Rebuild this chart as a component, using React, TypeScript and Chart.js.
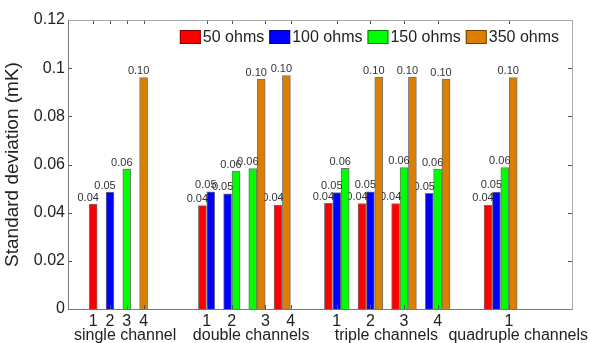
import React, { useEffect, useRef } from 'react';
import { Chart, registerables } from 'chart.js';
Chart.register(...registerables);

const seriesNames = ['50 ohms', '100 ohms', '150 ohms', '350 ohms'];
const seriesColors = ['#ff0000', '#0000ff', '#00ff00', '#dc7e00'];

// bar positions (x units) and values per series
const pos50 = [3, 16, 25, 31, 35, 39, 50];
const val50 = [0.0436, 0.0429, 0.0432, 0.0439, 0.0438, 0.0438, 0.0432];
const pos100 = [5, 17, 19, 32, 36, 43, 51];
const val100 = [0.0485, 0.0487, 0.0478, 0.0483, 0.0487, 0.048, 0.0486];
const pos150 = [7, 20, 22, 33, 40, 44, 52];
const val150 = [0.0581, 0.0573, 0.0583, 0.0584, 0.0587, 0.0581, 0.0587];
const pos350 = [9, 23, 26, 37, 41, 45, 53];
const val350 = [0.0961, 0.0955, 0.0969, 0.0962, 0.0963, 0.0955, 0.0961];

const tickPositions = [3, 5, 7, 9, 16.5, 19.5, 23.5, 26.5, 32, 36, 40, 44, 52.5];
const tickLabels = ['1', '2', '3', '4', '1', '2', '3', '4', '1', '2', '3', '4', '1'];
const groupNames = ['single channel', 'double channels', 'triple channels', 'quadruple channels'];
const groupCenters = [6.8, 21.8, 37.9, 53.6];
const yTicks = [0, 0.02, 0.04, 0.06, 0.08, 0.1, 0.12];

const FONT = '"Liberation Sans", Arial, sans-serif';

const positions = [pos50, pos100, pos150, pos350];
const values = [val50, val100, val150, val350];

const decorPlugin = {
  id: 'decor',
  beforeDatasetsDraw(chart: any) {
    const ctx = chart.ctx;
    ctx.save();
    ctx.font = `11px ${FONT}`;
    ctx.fillStyle = '#333';
    ctx.textAlign = 'center';
    ctx.textBaseline = 'bottom';
    chart.data.datasets.forEach((ds: any, di: number) => {
      const meta = chart.getDatasetMeta(di);
      meta.data.forEach((el: any, i: number) => {
        const v = ds.data[i].y;
        ctx.fillText(v.toFixed(2), el.x - 5, el.y - 1);
      });
    });
    ctx.restore();
  },
  afterDatasetsDraw(chart: any) {
    const ctx = chart.ctx;
    const { left, right, top, bottom } = chart.chartArea;
    const xs = chart.scales.x;
    const ys = chart.scales.y;
    ctx.save();
    ctx.lineWidth = 1;
    // ticks
    ctx.strokeStyle = '#555';
    tickPositions.forEach((p) => {
      const x = Math.round(xs.getPixelForValue(p)) + 0.5;
      ctx.beginPath();
      ctx.moveTo(x, bottom);
      ctx.lineTo(x, bottom - 4);
      ctx.moveTo(x, top);
      ctx.lineTo(x, top + 4);
      ctx.stroke();
    });
    yTicks.forEach((v) => {
      const y = Math.round(ys.getPixelForValue(v)) + 0.5;
      ctx.beginPath();
      ctx.moveTo(left, y);
      ctx.lineTo(left + 4, y);
      ctx.moveTo(right, y);
      ctx.lineTo(right - 4, y);
      ctx.stroke();
    });
    // box
    ctx.strokeStyle = '#777';
    ctx.beginPath();
    ctx.moveTo(left + 0.5, top + 0.5);
    ctx.lineTo(left + 0.5, bottom + 0.5);
    ctx.lineTo(right + 0.5, bottom + 0.5);
    ctx.stroke();
    ctx.strokeStyle = '#aaa';
    ctx.beginPath();
    ctx.moveTo(left + 0.5, top + 0.5);
    ctx.lineTo(right + 0.5, top + 0.5);
    ctx.lineTo(right + 0.5, bottom + 0.5);
    ctx.stroke();

    // group labels
    ctx.font = `16px ${FONT}`;
    ctx.fillStyle = '#222';
    ctx.textAlign = 'center';
    ctx.textBaseline = 'middle';
    groupNames.forEach((g, i) => {
      ctx.fillText(g, xs.getPixelForValue(groupCenters[i]), 336);
    });

    // legend
    ctx.font = `16px ${FONT}`;
    const sw = 21, sh = 14, gapText = 2, gapItem = 5;
    const widths = chart.data.datasets.map((d: any) => ctx.measureText(d.label).width);
    const total = widths.reduce((a: number, w: number) => a + sw + gapText + w, 0) + gapItem * (widths.length - 1);
    let x = right - 13 - total;
    const ly = top + 17;
    ctx.textAlign = 'left';
    chart.data.datasets.forEach((d: any, i: number) => {
      ctx.fillStyle = d.backgroundColor;
      ctx.fillRect(x, ly - sh / 2, sw, sh);
      ctx.strokeStyle = 'rgba(0,0,0,0.5)';
      ctx.strokeRect(x + 0.5, ly - sh / 2 + 0.5, sw - 1, sh - 1);
      ctx.fillStyle = '#222';
      ctx.fillText(d.label, x + sw + gapText, ly + 1);
      x += sw + gapText + widths[i] + gapItem;
    });
    ctx.restore();
  },
};

export default function App() {
  const ref = useRef<HTMLCanvasElement>(null);
  useEffect(() => {
    if (!ref.current) return;
    const chart = new Chart(ref.current, {
      type: 'bar',
      data: {
        datasets: seriesNames.map((name, si) => ({
          label: name,
          data: positions[si].map((p, i) => ({ x: p, y: values[si][i] })),
          backgroundColor: seriesColors[si],
          borderColor: 'rgba(0,0,0,0.55)',
          borderWidth: 1,
          barThickness: 8,
          grouped: false,
        })),
      },
      options: {
        responsive: false,
        animation: false,
        layout: { padding: { top: 20, right: 18, left: 0, bottom: 0 } },
        plugins: { legend: { display: false }, tooltip: { enabled: false } },
        scales: {
          x: {
            type: 'linear',
            min: 0,
            max: 60,
            offset: false,
            grid: { display: false, drawTicks: false },
            border: { display: false },
            afterBuildTicks: (s: any) => {
              s.ticks = tickPositions.map((v) => ({ value: v }));
            },
            afterFit: (s: any) => {
              s.height = 34;
            },
            ticks: {
              autoSkip: false,
              maxRotation: 0,
              padding: 3,
              color: '#222',
              font: { family: FONT, size: 16 },
              callback: (_v: any, i: number) => tickLabels[i],
            },
          },
          y: {
            min: 0,
            max: 0.12,
            grid: { display: false, drawTicks: false },
            border: { display: false },
            afterBuildTicks: (s: any) => {
              s.ticks = yTicks.map((v) => ({ value: v }));
            },
            afterFit: (s: any) => {
              s.width = 68;
            },
            ticks: {
              padding: 3,
              color: '#222',
              font: { family: FONT, size: 16 },
              callback: (v: any) => String(parseFloat(Number(v).toFixed(2))),
            },
            title: {
              display: true,
              text: 'Standard deviation (mK)',
              color: '#222',
              font: { family: FONT, size: 19 },
              padding: { top: 1, bottom: 0 },
            },
          },
        },
      },
      plugins: [decorPlugin],
    });
    return () => chart.destroy();
  }, []);
  return (
    <div style={{ position: 'absolute', left: 0, top: 0, width: 590, height: 343, background: '#fff' }}>
      <canvas ref={ref} width={590} height={343} />
    </div>
  );
}
